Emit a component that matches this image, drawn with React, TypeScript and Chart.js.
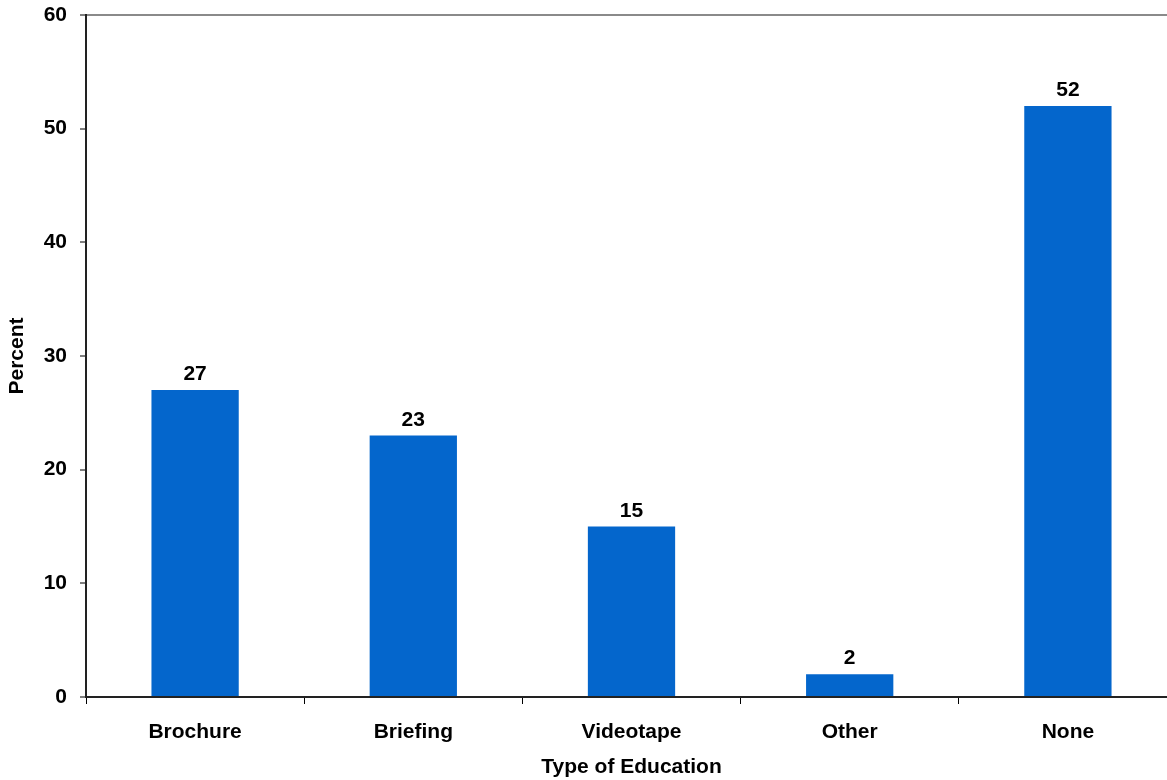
import React, { useEffect, useRef } from "react";
import { Chart, registerables } from "chart.js";

Chart.register(...registerables);

const categories = ["Brochure", "Briefing", "Videotape", "Other", "None"];
const percentValues = [27, 23, 15, 2, 52];
const yTicks = [0, 10, 20, 30, 40, 50, 60];

const FONT = "'Liberation Sans', Arial, sans-serif";
const FONT_SIZE = 21;

const valueLabels = {
  id: "valueLabels",
  afterDatasetsDraw(chart: any) {
    const { ctx } = chart;
    const meta = chart.getDatasetMeta(0);
    ctx.save();
    ctx.font = `bold ${FONT_SIZE}px ${FONT}`;
    ctx.fillStyle = "#000";
    ctx.textAlign = "center";
    ctx.textBaseline = "alphabetic";
    meta.data.forEach((bar: any, i: number) => {
      ctx.fillText(String(percentValues[i]), bar.x, bar.y - 10);
    });
    ctx.restore();
  },
};

export default function App() {
  const canvasRef = useRef<HTMLCanvasElement | null>(null);

  useEffect(() => {
    if (!canvasRef.current) return;
    const chart = new Chart(canvasRef.current, {
      type: "bar",
      data: {
        labels: categories,
        datasets: [
          {
            data: percentValues,
            backgroundColor: "#0466CC",
            borderWidth: 0,
            barPercentage: 0.4,
            categoryPercentage: 1,
          },
        ],
      },
      options: {
        responsive: false,
        animation: false,
        devicePixelRatio: 1,
        layout: { padding: { top: 15, left: 0, right: 0, bottom: 0 } },
        plugins: {
          legend: { display: false },
          tooltip: { enabled: false },
        },
        scales: {
          x: {
            offset: true,
            grid: {
              offset: true,
              drawOnChartArea: false,
              drawTicks: true,
              tickLength: 7,
              tickColor: "#000",
              tickWidth: 1,
            },
            border: { color: "#222", width: 2 },
            ticks: {
              color: "#000",
              font: { family: FONT, size: FONT_SIZE, weight: "bold" },
              padding: 16,
              maxRotation: 0,
            },
            title: {
              display: true,
              text: "Type of Education",
              color: "#000",
              font: { family: FONT, size: FONT_SIZE, weight: "bold" },
              padding: { top: 6, bottom: 0 },
            },
            afterFit(scale: any) {
              scale.height = 83;
              scale.paddingLeft = 0;
              scale.paddingRight = 0;
            },
          },
          y: {
            min: 0,
            max: 60,
            afterBuildTicks(scale: any) {
              scale.ticks = yTicks.map((v) => ({ value: v }));
            },
            grid: {
              drawOnChartArea: true,
              color: (c: any) => (c.tick && c.tick.value === 60 ? "#8a8a8a" : "rgba(0,0,0,0)"),
              lineWidth: 2,
              drawTicks: true,
              tickLength: 6,
              tickColor: "#000",
              tickWidth: 1,
            },
            border: { color: "#222", width: 2 },
            ticks: {
              color: "#000",
              font: { family: FONT, size: FONT_SIZE, weight: "bold" },
              padding: 13,
            },
            title: {
              display: true,
              text: "Percent",
              color: "#000",
              font: { family: FONT, size: FONT_SIZE, weight: "bold" },
              padding: { top: 5, bottom: 0 },
            },
            afterFit(scale: any) {
              scale.width = 86;
              scale.paddingTop = 0;
              scale.paddingBottom = 0;
            },
          },
        },
      },
      plugins: [valueLabels],
    });
    return () => chart.destroy();
  }, []);

  return (
    <div
      style={{
        position: "fixed",
        left: 0,
        top: 0,
        width: 1167,
        height: 780,
        overflow: "hidden",
        background: "#fff",
      }}
    >
      <canvas
        ref={canvasRef}
        width={1177}
        height={780}
        style={{ width: 1177, height: 780, display: "block" }}
      />
    </div>
  );
}
